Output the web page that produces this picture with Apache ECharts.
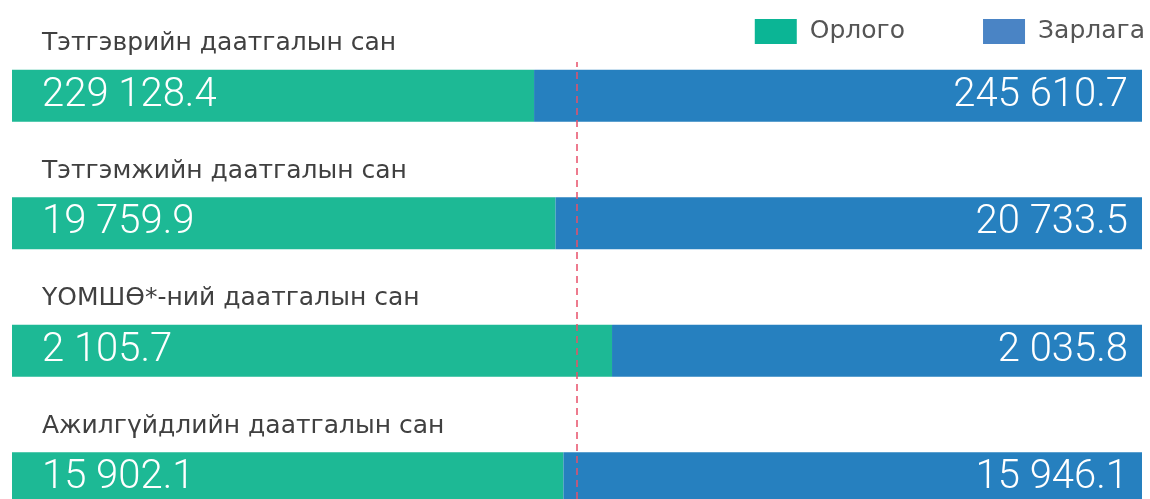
<!DOCTYPE html>
<html>
<head>
<meta charset="utf-8">
<script src="https://cdn.jsdelivr.net/npm/echarts@6/dist/echarts.min.js"></script>
<style>
  html, body { margin: 0; padding: 0; background: #fff; }
  #fund_chart { width: 1150px; height: 499px; }
</style>
</head>
<body>
<div id="fund_chart"></div>
<script>
// сангууд
const funds = ['Тэтгэврийн даатгалын сан', 'Тэтгэмжийн даатгалын сан', 'ҮОМШӨ*-ний даатгалын сан', 'Ажилгүйдлийн даатгалын сан']
// орлого, зарлага (сая төгрөг)
const income = [229128.4, 19759.9, 2105.7, 15902.1]
const expense = [245610.7, 20733.5, 2035.8, 15946.1]
// баганын урт (%) - зургаас уншсан
const incomeShare = [46.2, 48.1, 53.1, 48.8]
const expenseShare = [53.8, 51.9, 46.9, 51.2]

const fmt = v => {
  const parts = v.toFixed(1).split('.')
  return parts[0].replace(/\B(?=(\d{3})+(?!\d))/g, ' ') + '.' + parts[1]
}

const myChart = echarts.init(document.getElementById('fund_chart'))

const numStyle = {
  color: '#fff',
  fontFamily: 'Roboto',
  fontWeight: 300,
  fontSize: 40,
  lineHeight: 52
}

const option = {
  backgroundColor: '#fff',
  animation: false,
  legend: {
    right: 0,
    top: 14,
    itemWidth: 42,
    itemHeight: 25,
    itemGap: 78,
    icon: 'rect',
    textStyle: {
      color: '#555',
      fontFamily: 'DejaVu Sans',
      fontSize: 25,
      padding: [0, 0, 0, 8]
    },
    data: [
      { name: 'Орлого', itemStyle: { color: '#0bb595' } },
      { name: 'Зарлага', itemStyle: { color: '#4a84c5' } }
    ]
  },
  grid: [
    { left: 12, right: 8, top: 32, height: 510, outerBoundsMode: 'none' },
    { left: 12, right: 8, top: 62, bottom: 0, outerBoundsMode: 'none' }
  ],
  xAxis: [
    { type: 'value', min: 0, max: 100, show: false, gridIndex: 0 },
    { type: 'value', min: 0, max: 100, show: false, gridIndex: 1 }
  ],
  yAxis: [
    {
      type: 'category',
      inverse: true,
      data: funds,
      gridIndex: 0,
      axisLine: { show: false },
      axisTick: { show: false },
      axisLabel: { show: false }
    },
    { type: 'category', gridIndex: 1, show: false, data: [''] }
  ],
  series: [
    {
      name: 'Орлого',
      type: 'bar',
      stack: 'fund',
      barWidth: 52,
      itemStyle: { color: '#1db995' },
      label: {
        show: true,
        position: 'insideLeft',
        distance: 30,
        // сангийн нэр баганын дээр, дүн баганын дотор
        formatter: p => '{name|' + p.name + '}\n{num|' + fmt(income[p.dataIndex]) + '}\n{sp| }',
        rich: {
          name: {
            color: '#404040',
            fontFamily: 'DejaVu Sans',
            fontSize: 25,
            lineHeight: 52
          },
          num: numStyle,
          sp: { fontSize: 10, lineHeight: 52 }
        }
      },
      data: incomeShare
    },
    {
      name: 'Зарлага',
      type: 'bar',
      stack: 'fund',
      barWidth: 52,
      itemStyle: { color: '#2680bf' },
      label: {
        show: true,
        position: 'insideRight',
        distance: 14,
        color: numStyle.color,
        fontFamily: numStyle.fontFamily,
        fontWeight: numStyle.fontWeight,
        fontSize: numStyle.fontSize,
        formatter: p => fmt(expense[p.dataIndex])
      },
      data: expenseShare
    },
    {
      // 50% шугам
      type: 'line',
      xAxisIndex: 1,
      yAxisIndex: 1,
      data: [],
      silent: true,
      markLine: {
        symbol: 'none',
        silent: true,
        label: { show: false },
        lineStyle: { color: '#e8506a', type: [7, 5], width: 1.5 },
        data: [{ xAxis: 50 }]
      }
    }
  ]
}

myChart.setOption(option)
</script>
</body>
</html>
